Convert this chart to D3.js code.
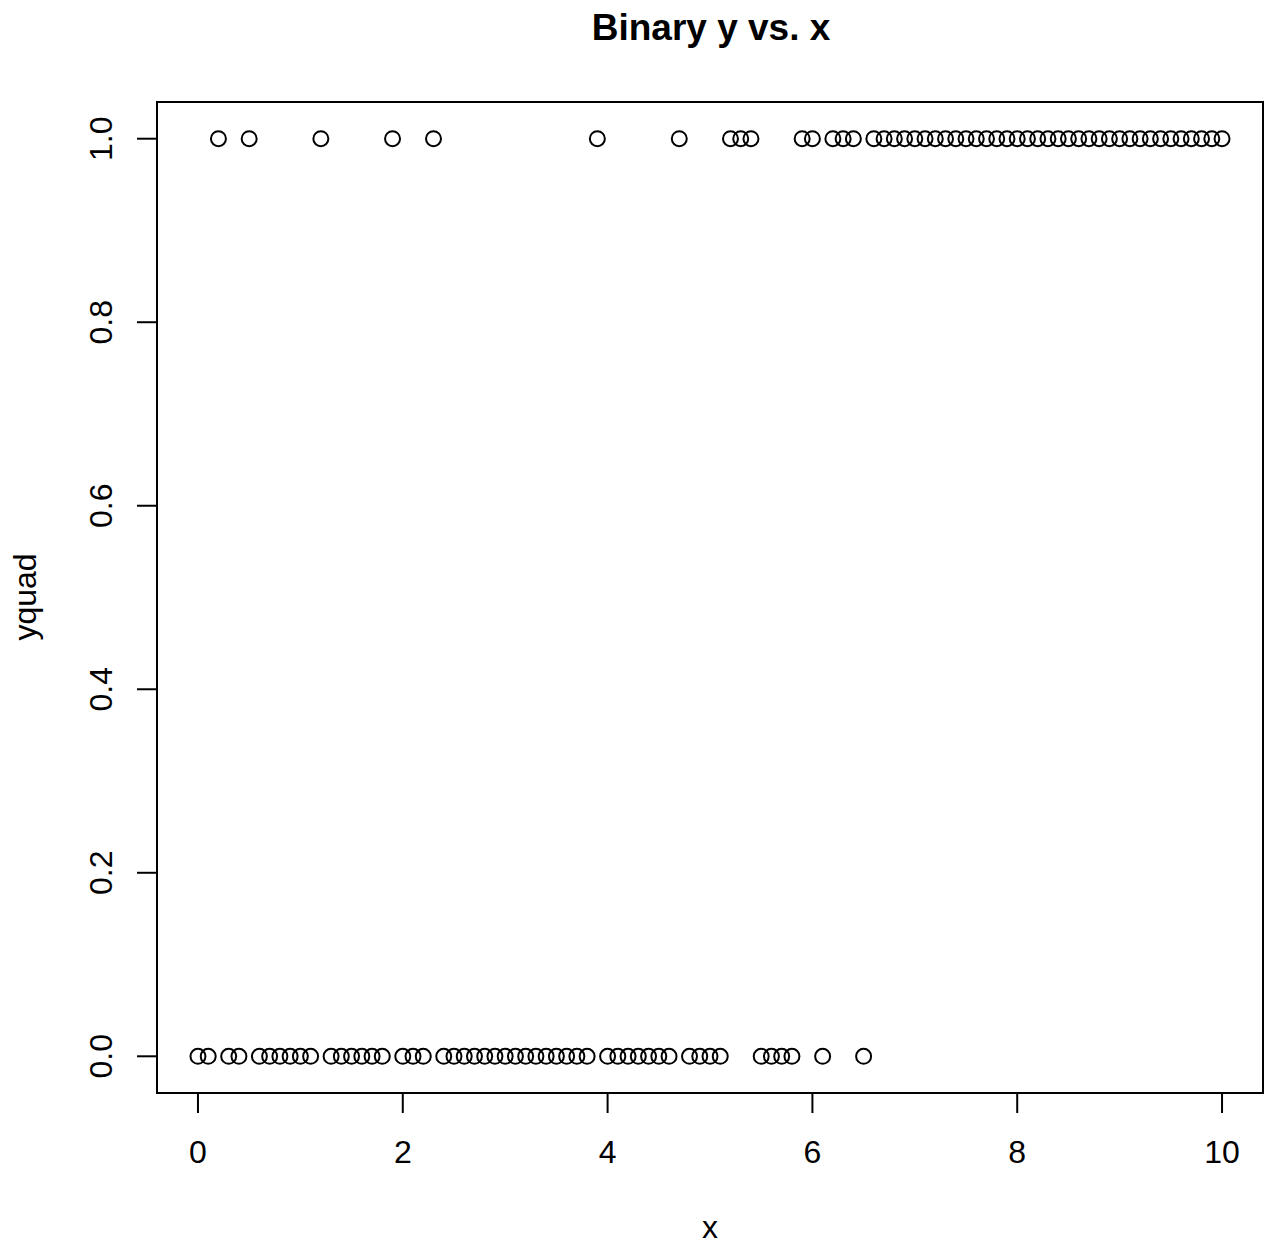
<!DOCTYPE html>
<html>
<head>
<meta charset="utf-8">
<title>Binary y vs. x</title>
<script src="https://d3js.org/d3.v7.min.js"></script>
<style>
  body { margin: 0; background: #fff; }
  text { font-family: "Liberation Sans", Arial, sans-serif; fill: #000; }
</style>
</head>
<body>
<svg id="chart" width="1274" height="1249"></svg>
<script>
// x runs 0..10 in steps of 0.1; these x values have yquad = 1, the rest 0
var xValues = d3.range(0, 101).map(i => +(i / 10).toFixed(1));
var onesAt = [0.2, 0.5, 1.2, 1.9, 2.3, 3.9, 4.7, 5.2, 5.3, 5.4, 5.9, 6.0, 6.2, 6.3, 6.4,
  6.6, 6.7, 6.8, 6.9, 7.0, 7.1, 7.2, 7.3, 7.4, 7.5, 7.6, 7.7, 7.8, 7.9, 8.0, 8.1, 8.2, 8.3,
  8.4, 8.5, 8.6, 8.7, 8.8, 8.9, 9.0, 9.1, 9.2, 9.3, 9.4, 9.5, 9.6, 9.7, 9.8, 9.9, 10.0];
var yquad = xValues.map(v => onesAt.includes(v) ? 1 : 0);
var xTicks = [0, 2, 4, 6, 8, 10];
var yTicks = [0, 0.2, 0.4, 0.6, 0.8, 1.0];

var svg = d3.select("#chart");
var box = { left: 157, top: 102, right: 1263, bottom: 1093 };

var x = d3.scaleLinear().domain([-0.4, 10.4]).range([box.left, box.right]);
var y = d3.scaleLinear().domain([-0.04, 1.04]).range([box.bottom, box.top]);

svg.append("rect")
  .attr("x", box.left).attr("y", box.top)
  .attr("width", box.right - box.left).attr("height", box.bottom - box.top)
  .attr("fill", "none").attr("stroke", "#000").attr("stroke-width", 2);

// x axis
var xa = svg.append("g");
xa.append("line")
  .attr("x1", x(0)).attr("x2", x(10))
  .attr("y1", box.bottom).attr("y2", box.bottom)
  .attr("stroke", "#000").attr("stroke-width", 2);
xa.selectAll("line.tick").data(xTicks).join("line")
  .attr("class", "tick")
  .attr("x1", d => x(d)).attr("x2", d => x(d))
  .attr("y1", box.bottom).attr("y2", box.bottom + 20)
  .attr("stroke", "#000").attr("stroke-width", 2);
xa.selectAll("text").data(xTicks).join("text")
  .attr("x", d => x(d)).attr("y", 1163)
  .attr("text-anchor", "middle").attr("font-size", 32)
  .text(d => d);

// y axis
var ya = svg.append("g");
ya.append("line")
  .attr("x1", box.left).attr("x2", box.left)
  .attr("y1", y(0)).attr("y2", y(1))
  .attr("stroke", "#000").attr("stroke-width", 2);
ya.selectAll("line.tick").data(yTicks).join("line")
  .attr("class", "tick")
  .attr("x1", box.left - 20).attr("x2", box.left)
  .attr("y1", d => y(d)).attr("y2", d => y(d))
  .attr("stroke", "#000").attr("stroke-width", 2);
ya.selectAll("text").data(yTicks).join("text")
  .attr("transform", d => "translate(112," + y(d) + ") rotate(-90)")
  .attr("text-anchor", "middle").attr("font-size", 32)
  .text(d => d.toFixed(1));

// points
svg.append("g").selectAll("circle").data(xValues).join("circle")
  .attr("cx", d => x(d))
  .attr("cy", (d, i) => y(yquad[i]))
  .attr("r", 7.5)
  .attr("fill", "none").attr("stroke", "#000").attr("stroke-width", 2);

// labels
svg.append("text").attr("x", 711).attr("y", 40)
  .attr("text-anchor", "middle").attr("font-size", 37).attr("font-weight", "bold")
  .text("Binary y vs. x");
svg.append("text").attr("x", 710).attr("y", 1238)
  .attr("text-anchor", "middle").attr("font-size", 32)
  .text("x");
svg.append("text").attr("transform", "translate(36,597) rotate(-90)")
  .attr("text-anchor", "middle").attr("font-size", 32)
  .text("yquad");
</script>
</body>
</html>
